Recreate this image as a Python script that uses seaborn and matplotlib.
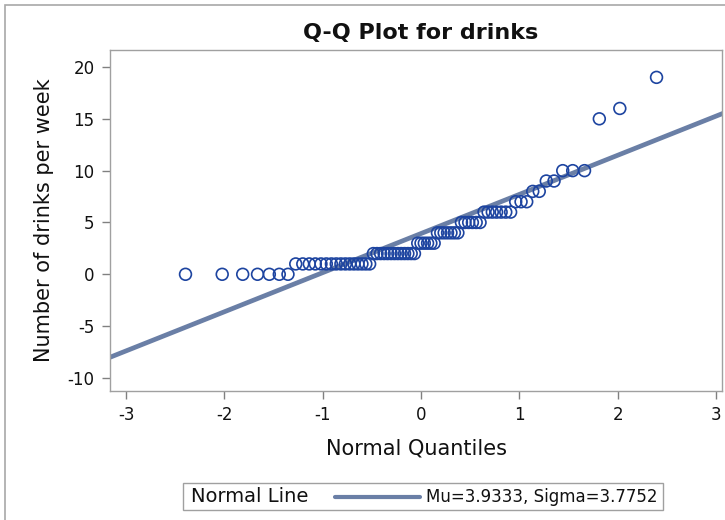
import numpy as np
import pandas as pd
import matplotlib
matplotlib.use("Agg")
import matplotlib.pyplot as plt
from matplotlib.patches import Rectangle
from matplotlib.lines import Line2D
import seaborn as sns
from statistics import NormalDist

# ---- data ----
drink_values = [0, 1, 2, 3, 4, 5, 6, 7, 8, 9, 10, 15, 16, 19]
drink_counts = [7, 16, 13, 6, 7, 6, 7, 3, 2, 2, 3, 1, 1, 1]
mu = 3.9333
sigma = 3.7752
x_ticks = [-3, -2, -1, 0, 1, 2, 3]
y_ticks = [-10, -5, 0, 5, 10, 15, 20]
title = "Q-Q Plot for drinks"
x_label = "Normal Quantiles"
y_label = "Number of drinks per week"
legend_title = "Normal Line"
legend_label = f"Mu={mu:.4f}, Sigma={sigma:.4f}"

# ---- derived Q-Q coordinates (Blom plotting positions) ----
drinks = np.sort(np.repeat(drink_values, drink_counts))
n = len(drinks)
nd = NormalDist()
quantiles = np.array([nd.inv_cdf((i - 0.375) / (n + 0.25)) for i in range(1, n + 1)])
df = pd.DataFrame({"q": quantiles, "drinks": drinks})

sns.set_theme(style="white")
plt.rcParams["font.family"] = ["DejaVu Sans"]

W, H = 725, 520
fig = plt.figure(figsize=(W / 100, H / 100), dpi=100)
fig.patch.set_facecolor("white")

def fx(px):
    return px / W

def fy(py):
    return 1 - py / H

# outer border (extends beyond right/bottom edge)
fig.patches.append(Rectangle((fx(5), fy(540)), fx(760) - fx(5), fy(5) - fy(540),
                             transform=fig.transFigure, fill=False,
                             edgecolor="#a8a8a8", linewidth=1.2))

ax = fig.add_axes([fx(110), fy(391), fx(722) - fx(110), fy(50) - fy(391)])

xlim = (-3.163, 3.061)
ylim = (-11.26, 21.64)

line_x = np.array([xlim[0] - 0.5, xlim[1] + 0.5])
line_df = pd.DataFrame({"q": line_x, "fit": mu + sigma * line_x})
sns.lineplot(data=line_df, x="q", y="fit", ax=ax, color="#6a7fa6", linewidth=3.4,
             zorder=2, legend=False)

sns.scatterplot(data=df, x="q", y="drinks", ax=ax, marker="o", s=72,
                facecolors="none", edgecolor="#1d44a0", linewidth=1.2, zorder=3,
                legend=False)

ax.set_xlim(*xlim)
ax.set_ylim(*ylim)
ax.set_xticks(x_ticks)
ax.set_yticks(y_ticks)
ax.set_xticklabels([str(t) for t in x_ticks])
ax.set_yticklabels([str(t) for t in y_ticks])
ax.tick_params(axis="both", which="both", direction="out", length=6, width=1,
               color="#808080", labelsize=12, labelcolor="#111111", pad=5,
               bottom=True, left=True)
for sp in ax.spines.values():
    sp.set_visible(True)
    sp.set_color("#a0a0a0")
    sp.set_linewidth(1.0)

ax.set_xlabel(x_label, fontsize=15, color="#111111", labelpad=10)
ax.set_ylabel(y_label, fontsize=15, color="#111111", labelpad=10)

fig.text(fx(421), fy(33), title, ha="center", va="center", fontsize=16,
         fontweight="bold", color="#111111")

# legend box
fig.patches.append(Rectangle((fx(183), fy(510)), fx(663) - fx(183), fy(483) - fy(510),
                             transform=fig.transFigure, fill=False,
                             edgecolor="#a0a0a0", linewidth=1.0))
fig.text(fx(191), fy(497), legend_title, ha="left", va="center", fontsize=14,
         color="#111111")
fig.lines.append(Line2D([fx(335), fx(420)], [fy(497), fy(497)],
                        transform=fig.transFigure, color="#6a7fa6", linewidth=3.0))
fig.text(fx(426), fy(497), legend_label, ha="left", va="center", fontsize=12,
         color="#111111")

fig.savefig("out.png", dpi=100)
